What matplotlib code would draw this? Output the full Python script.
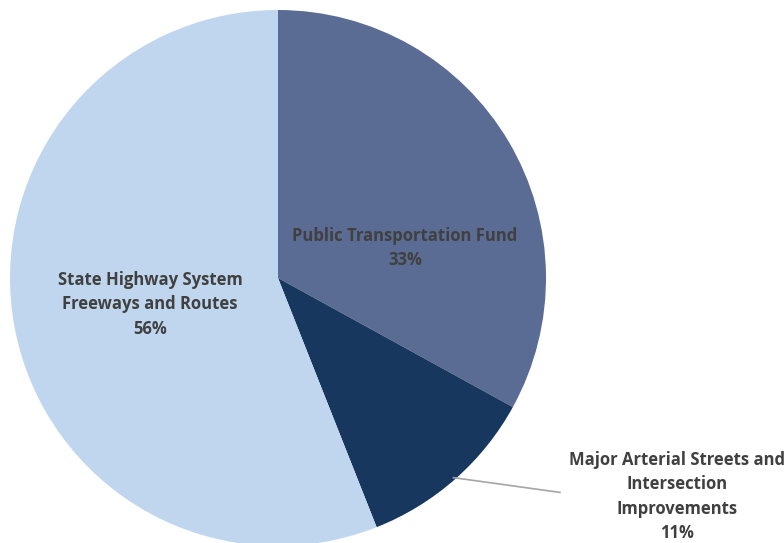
import matplotlib.pyplot as plt

# slice data, clockwise from 12 o'clock
names = ["Public Transportation Fund",
         "Major Arterial Streets and\nIntersection\nImprovements",
         "State Highway System\nFreeways and Routes"]
shares = [33, 11, 56]
colors = ["#5a6b94", "#17375e", "#c0d6ee"]

plt.rcParams['font.family'] = ['Open Sans', 'DejaVu Sans']

fig = plt.figure(figsize=(7.84, 5.43), dpi=100)
ax = fig.add_axes([0, 0, 1, 1])

# pie centre at pixel (278, 278), radius 268 px
r_px = 268.0
ax.pie(shares, colors=colors, startangle=90, counterclock=False,
       radius=1.0, center=(0, 0), wedgeprops=dict(linewidth=0))

ax.set_xlim(-278 / r_px, (784 - 278) / r_px)
ax.set_ylim(-(543 - 278) / r_px, 278 / r_px)
ax.set_aspect('auto')
ax.axis('off')

txt = dict(ha='center', va='center', fontsize=12, fontweight='bold',
           color='#404040', linespacing=1.46)

label_pos = [(0.474, 0.111), (1.49, -0.816), (-0.478, -0.098)]
for name, pct, (x, y) in zip(names, shares, label_pos):
    ax.text(x, y, f"{name}\n{pct}%", **txt)

# leader line for the small slice
ax.plot([0.655, 1.052], [-0.745, -0.80], color='#a6a6a6', lw=1.2)

fig.savefig("out.png", dpi=100)
